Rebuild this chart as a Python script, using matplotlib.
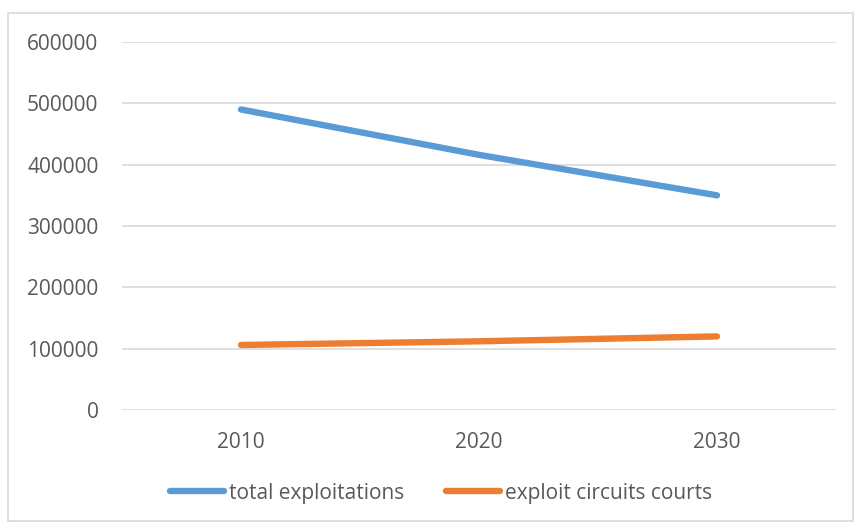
import matplotlib
matplotlib.use("Agg")
import matplotlib.pyplot as plt
from matplotlib.patches import Rectangle

# --- données ---
annees = ["2010", "2020", "2030"]
total_exploitations = [490000, 416000, 350000]
exploit_circuits_courts = [106000, 112000, 120000]
graduations = [0, 100000, 200000, 300000, 400000, 500000, 600000]

BLEU = "#5B9BD5"
ORANGE = "#ED7D31"
GRIS_TEXTE = "#595959"
GRIS_GRILLE = "#D9D9D9"

plt.rcParams["font.family"] = ["Open Sans", "DejaVu Sans"]

W, H = 855, 528
fig = plt.figure(figsize=(W / 100, H / 100), dpi=100)

# cadre extérieur façon Excel
fig.patches.append(Rectangle((8 / W, 1 - 521 / H), (853 - 8) / W, (521 - 13) / H,
                             transform=fig.transFigure, fill=False,
                             edgecolor=GRIS_GRILLE, linewidth=1.2))

ax = fig.add_axes([122 / W, 1 - 410 / H, (836 - 122) / W, (410 - 42) / H])
x = range(len(annees))
ax.plot(x, total_exploitations, color=BLEU, linewidth=4.6,
        solid_capstyle="round", label="total exploitations", zorder=3)
ax.plot(x, exploit_circuits_courts, color=ORANGE, linewidth=4.6,
        solid_capstyle="round", label="exploit circuits courts", zorder=3)

ax.set_xlim(-0.5, len(annees) - 0.5)
ax.set_ylim(0, 600000)
ax.set_xticks(list(x))
ax.set_xticklabels(annees)
ax.set_yticks(graduations)
ax.set_yticklabels([str(g) for g in graduations])
ax.grid(axis="y", color=GRIS_GRILLE, linewidth=1.2)
ax.set_axisbelow(True)
for s in ax.spines.values():
    s.set_visible(False)
ax.tick_params(axis="y", length=0, pad=17, labelsize=15, labelcolor=GRIS_TEXTE)
ax.tick_params(axis="x", length=0, pad=16, labelsize=15, labelcolor=GRIS_TEXTE)

leg = fig.legend(loc="center", bbox_to_anchor=(441 / W, 1 - 493 / H), ncol=2,
                 frameon=False, fontsize=15, handlelength=2.6, handletextpad=0.25,
                 columnspacing=2.0)
for t in leg.get_texts():
    t.set_color(GRIS_TEXTE)

fig.savefig("out.png", dpi=100)
